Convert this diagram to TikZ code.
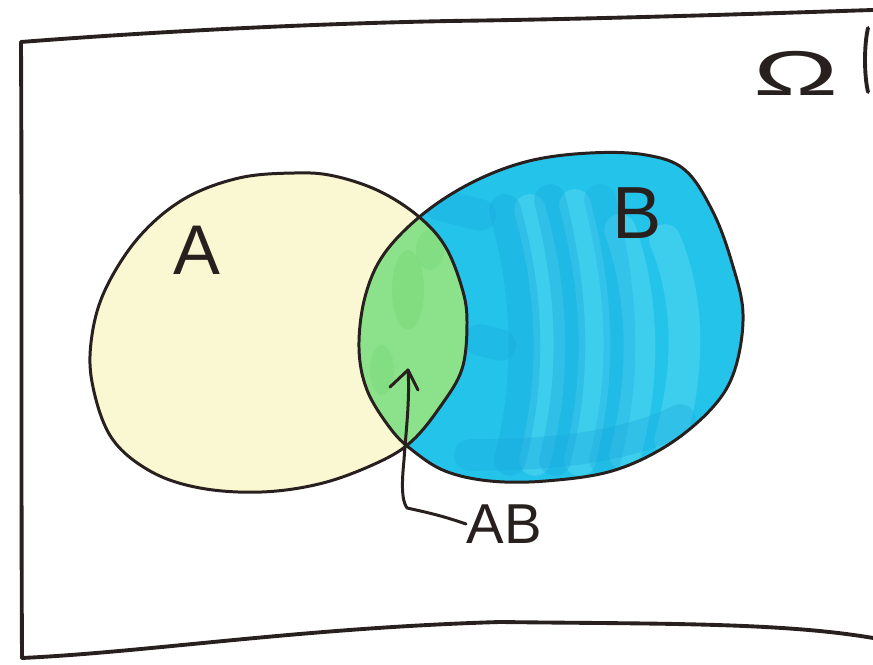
\documentclass[tikz,border=0pt]{standalone}
\usepackage{fontspec}
\setmainfont{Liberation Sans}
\definecolor{ink}{RGB}{40,32,30}
\definecolor{ayellow}{RGB}{250,248,210}
\definecolor{bcyan}{RGB}{36,196,234}
\definecolor{bdark}{RGB}{22,165,222}
\definecolor{blight}{RGB}{110,222,244}
\definecolor{lgreen}{RGB}{140,226,138}
\definecolor{ldark}{RGB}{112,212,112}
\tikzset{
  outline/.style={draw=ink, line width=0.85pt, line join=round},
  framestroke/.style={draw=ink, line width=1.1pt, line cap=round},
  lbl/.style={text=ink, inner sep=0pt},
  streak/.style={line width=9pt, line cap=round, opacity=0.35},
}
\def\shapeA{plot[smooth cycle, tension=0.6] coordinates {(295,173) (334,176) (379,191) (418,216) (445,246) (462,288) (467,322) (462,369) (440,407) (412,441) (379,462) (323,483) (262,492) (200,488) (150,471) (111,437) (92,382) (92,335) (106,288) (139,237) (184,199) (239,178)}}
\def\shapeB{plot[smooth cycle, tension=0.6] coordinates {(646,155) (685,170) (713,212) (732,263) (743,314) (735,369) (713,407) (668,445) (612,471) (546,481) (490,481) (445,471) (412,450) (390,428) (367,390) (359,348) (365,297) (384,254) (423,214) (473,182) (529,161) (590,153)}}
\begin{document}
\begin{tikzpicture}[x=0.01cm, y=-0.01cm]
\useasboundingbox (0,0) rectangle (873,665);
\fill[white] (0,0) rectangle (873,665);
% fills
\fill[ayellow] \shapeA;
\fill[bcyan] \shapeB;
\begin{scope}
  \clip \shapeB;
  \draw[streak, blight] (530,210) .. controls (555,300) and (555,380) .. (535,460);
  \draw[streak, blight] (575,205) .. controls (600,300) and (600,380) .. (580,460);
  \draw[streak, blight] (620,230) .. controls (645,300) and (645,380) .. (625,455);
  \draw[streak, blight] (665,240) .. controls (690,300) and (690,370) .. (670,440);
  \draw[streak, bdark] (505,210) .. controls (530,300) and (530,380) .. (510,460);
  \draw[streak, bdark] (550,200) .. controls (575,300) and (575,380) .. (555,460);
  \draw[streak, bdark, opacity=0.25] (600,200) .. controls (625,300) and (625,380) .. (605,460);
  \draw[streak, bdark, opacity=0.3] (440,205) -- (480,215);
  \draw[streak, bdark, opacity=0.3] (480,340) -- (500,345);
  \draw[streak, bdark, opacity=0.3] (470,455) .. controls (540,455) and (620,450) .. (680,420);
\end{scope}
\begin{scope}
  \clip \shapeA;
  \fill[lgreen] \shapeB;
  \fill[ldark, opacity=0.35] (408,290) ellipse (16 and 40);
  \fill[ldark, opacity=0.3] (382,370) ellipse (12 and 25);
  \fill[ldark, opacity=0.3] (430,250) ellipse (14 and 20);
\end{scope}
% outlines
\draw[outline] \shapeA;
\draw[outline] \shapeB;
% frame
\draw[framestroke] (21,42) .. controls (150,32) and (300,24) .. (450,21) .. controls (600,19) and (750,14) .. (873,10);
\draw[framestroke] (21,42) .. controls (22,250) and (21,450) .. (22,658);
\draw[framestroke] (22,658) .. controls (150,652) and (300,628) .. (500,622) .. controls (650,624) and (780,622) .. (873,638);
\draw[framestroke] (868,28) .. controls (864,45) and (864,75) .. (868,92);
% labels
\node[lbl, font=\fontsize{20}{24}\selectfont] (la) at (197,250) {A};
\node[lbl, font=\fontsize{21}{25}\selectfont] (lb) at (637,213) {B};
\node[lbl, font=\fontsize{18}{22}\selectfont, xscale=1.8] (omega) at (796,73) {Ω};
\node[lbl, font=\fontsize{16}{20}\selectfont, anchor=west] (lab) at (466,524) {AB};
% arrow
\coordinate (tip) at (408,370);
\draw[outline, line cap=round] (lab.west) .. controls (440,515) and (425,512) .. (407,508) .. controls (401,500) and (402,480) .. (404,460) .. controls (406,430) and (410,400) .. (tip);
\draw[outline, line cap=round] (390,387) -- (tip) -- (418,390);
\end{tikzpicture}
\end{document}
